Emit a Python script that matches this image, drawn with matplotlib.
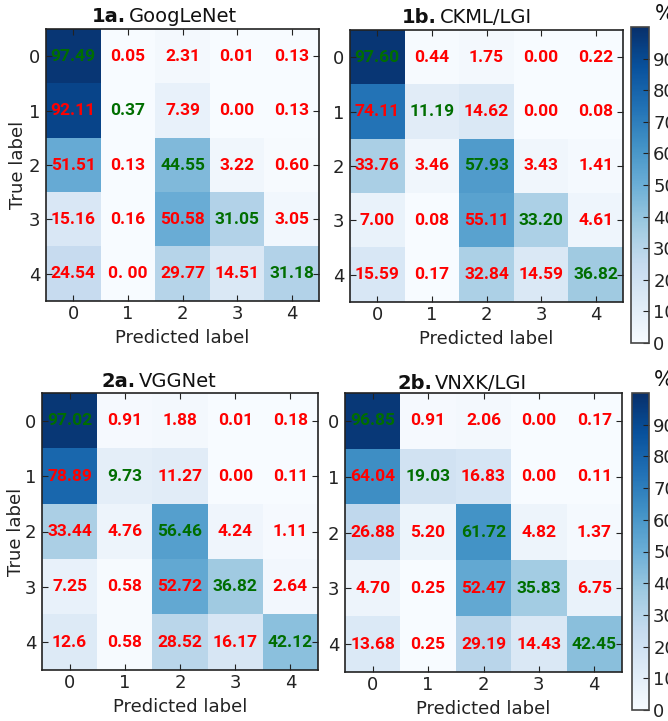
import matplotlib
matplotlib.use('Agg')
import matplotlib.pyplot as plt
import numpy as np

classes = ['0', '1', '2', '3', '4']

# cell texts as printed in the figure (values are read from them)
googlenet = [['97.49', '0.05', '2.31', '0.01', '0.13'],
             ['92.11', '0.37', '7.39', '0.00', '0.13'],
             ['51.51', '0.13', '44.55', '3.22', '0.60'],
             ['15.16', '0.16', '50.58', '31.05', '3.05'],
             ['24.54', '0. 00', '29.77', '14.51', '31.18']]
ckml_lgi = [['97.60', '0.44', '1.75', '0.00', '0.22'],
            ['74.11', '11.19', '14.62', '0.00', '0.08'],
            ['33.76', '3.46', '57.93', '3.43', '1.41'],
            ['7.00', '0.08', '55.11', '33.20', '4.61'],
            ['15.59', '0.17', '32.84', '14.59', '36.82']]
vggnet = [['97.02', '0.91', '1.88', '0.01', '0.18'],
          ['78.89', '9.73', '11.27', '0.00', '0.11'],
          ['33.44', '4.76', '56.46', '4.24', '1.11'],
          ['7.25', '0.58', '52.72', '36.82', '2.64'],
          ['12.6', '0.58', '28.52', '16.17', '42.12']]
vnxk_lgi = [['96.85', '0.91', '2.06', '0.00', '0.17'],
            ['64.04', '19.03', '16.83', '0.00', '0.11'],
            ['26.88', '5.20', '61.72', '4.82', '1.37'],
            ['4.70', '0.25', '52.47', '35.83', '6.75'],
            ['13.68', '0.25', '29.19', '14.43', '42.45']]

panels = [('1a.', 'GoogLeNet', googlenet),
          ('1b.', 'CKML/LGI', ckml_lgi),
          ('2a.', 'VGGNet', vggnet),
          ('2b.', 'VNXK/LGI', vnxk_lgi)]

W, H = 668, 721
fig = plt.figure(figsize=(W / 100, H / 100), dpi=100)

def px_axes(x0, y0, x1, y1):
    return fig.add_axes([x0 / W, 1 - y1 / H, (x1 - x0) / W, (y1 - y0) / H])

# pixel boxes (left, top, right, bottom)
boxes = [(46, 29, 319, 301), (350, 30, 623, 302),
         (42, 393, 318, 670), (345, 393, 622, 672)]
title_pos = [(126, 22), (437, 23), (136, 387), (432, 389)]
ylabel_x = [-0.068, None, -0.062, None]
cbar_boxes = [(631, 27, 649, 343), (632, 393, 649, 710)]

edge = '#222222'
images = []
for i, (tag, name, cells) in enumerate(panels):
    vals = np.array([[float(s.replace(' ', '')) for s in row] for row in cells])
    ax = px_axes(*boxes[i])
    im = ax.imshow(vals, cmap='Blues', vmin=0, vmax=100, aspect='auto',
                   interpolation='nearest')
    images.append(im)
    for r in range(5):
        for c in range(5):
            col = '#006e00' if r == c else '#ff0000'
            ax.text(c, r, cells[r][c], ha='center', va='center', color=col,
                    fontsize=12.5, fontweight='bold', family='Roboto')
    ax.set_xticks(range(5))
    ax.set_yticks(range(5))
    ax.set_xticklabels(classes)
    ax.set_yticklabels(classes)
    ax.tick_params(direction='in', top=True, right=True, length=4, width=0.8,
                   color=edge, labelsize=13, labelcolor='#222222')
    ax.tick_params(axis='x', pad=3)
    ax.tick_params(axis='y', pad=4)
    for sp in ax.spines.values():
        sp.set_color(edge)
        sp.set_linewidth(1.2)
    ax.set_xlabel('Predicted label', fontsize=13, color='#222222', labelpad=4)
    if ylabel_x[i] is not None:
        ax.set_ylabel('True label', fontsize=13, color='#222222')
        ax.yaxis.set_label_coords(ylabel_x[i], 0.5)
    tx, ty = title_pos[i]
    fig.text(tx / W, 1 - ty / H, tag, ha='right', va='baseline',
             fontsize=14, fontweight='bold', color='#111111')
    fig.text((tx + 3) / W, 1 - ty / H, name, ha='left', va='baseline',
             fontsize=14, color='#111111')

for k, cb_box in enumerate(cbar_boxes):
    cax = px_axes(*cb_box)
    cb = fig.colorbar(images[2 * k], cax=cax)
    cb.set_ticks(range(0, 100, 10))
    cb.ax.tick_params(direction='in', length=4, width=0.8, color='#222222',
                      labelsize=13, labelcolor='#222222', pad=3)
    cb.outline.set_edgecolor('#444444')
    cb.outline.set_linewidth(1.2)
    cax.text(1.3, 1.01, '%', transform=cax.transAxes, ha='left',
             va='bottom', fontsize=15, color='#111111')

fig.savefig('out.png', dpi=100)
